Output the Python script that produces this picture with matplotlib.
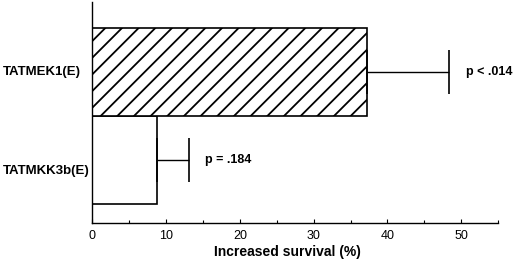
import matplotlib
matplotlib.use("Agg")
import matplotlib.pyplot as plt
from matplotlib.ticker import MultipleLocator
import matplotlib.transforms as mtransforms

categories = ["TATMKK3b(E)", "TATMEK1(E)"]
values = [8.8, 37.2]
errors = [4.3, 11.2]
pvalues = ["p = .184", "p < .014"]
hatches = ["", "//"]
xticks = [0, 10, 20, 30, 40, 50]

plt.rcParams["font.family"] = ["Liberation Sans", "DejaVu Sans"]
plt.rcParams["hatch.linewidth"] = 1.3

fig = plt.figure(figsize=(5.2, 2.77), dpi=100)
ax = fig.add_axes([0.1775, 0.195, 0.958 - 0.1775, 0.993 - 0.195])

pos = list(range(len(categories)))
for i, (v, e, h) in enumerate(zip(values, errors, hatches)):
    ax.barh(pos[i], v, height=1.0, color="white", edgecolor="black",
            linewidth=1.2, hatch=h, zorder=2)
    ax.errorbar(v, pos[i], xerr=[[0], [e]], fmt="none", ecolor="black",
                elinewidth=1.0, capsize=15.5, capthick=1.2, zorder=3)
    ax.text(v + e + 2.2, pos[i], pvalues[i], fontsize=9, fontweight="bold",
            va="center", ha="left")

label_offsets = [-0.13, 0.0]
trans = mtransforms.blended_transform_factory(fig.transFigure, ax.transData)
for i, c in enumerate(categories):
    ax.text(3 / 520, pos[i] + label_offsets[i], c, transform=trans,
            fontsize=9.5, fontweight="bold", va="center", ha="left")

ax.set_xlim(0, 55)
ax.set_ylim(-0.716, 1.79)
ax.set_xticks(xticks)
ax.xaxis.set_minor_locator(MultipleLocator(5))
ax.tick_params(axis="x", which="major", direction="in", length=3, width=0.8,
               labelsize=9, pad=5)
ax.tick_params(axis="x", which="minor", direction="in", length=2, width=0.8)
ax.set_yticks([])
for s in ["top", "right"]:
    ax.spines[s].set_visible(False)
for s in ["left", "bottom"]:
    ax.spines[s].set_linewidth(1.0)
ax.set_xlabel("Increased survival (%)", fontsize=10, fontweight="bold")
ax.xaxis.set_label_coords(0.481, -0.1)

fig.savefig("out.png", dpi=100)
